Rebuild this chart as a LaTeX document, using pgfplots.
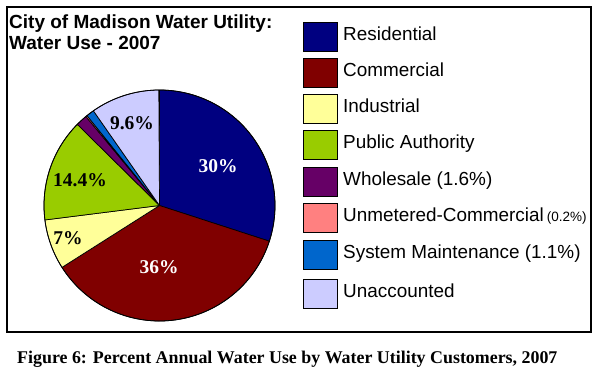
\documentclass[border=0pt]{standalone}
\usepackage{pgfplots}
\pgfplotsset{compat=1.18}
\usepackage{pgfplotstable}
\usepackage{fontspec}
\setmainfont{Liberation Serif}
\newfontfamily\arial{Liberation Sans}

\definecolor{c0}{HTML}{000080}
\definecolor{c1}{HTML}{800000}
\definecolor{c2}{HTML}{FFFF99}
\definecolor{c3}{HTML}{99CC00}
\definecolor{c4}{HTML}{660066}
\definecolor{c5}{HTML}{FF8080}
\definecolor{c6}{HTML}{0066CC}
\definecolor{c7}{HTML}{CCCCFF}

% share of annual water use, percent (clockwise from 12 o'clock)
\pgfplotstableread{
idx value ly
0 30   37
1 36   73
2 7    109
3 14.4 145
4 1.6  182
5 0.2  218
6 1.1  255
7 9.6  294
}\piedata

\begin{document}
\begin{tikzpicture}
\def\cum{0}
\pgfplotsforeachungrouped \i in {0,...,7}{%
  \pgfplotstablegetelem{\i}{value}\of\piedata
  \pgfmathsetmacro{\sa}{90-3.6*\cum}%
  \pgfmathsetmacro{\cum}{\cum+\pgfplotsretval}%
  \pgfmathsetmacro{\ea}{90-3.6*\cum}%
  \expandafter\xdef\csname sa\i\endcsname{\sa}%
  \expandafter\xdef\csname ea\i\endcsname{\ea}%
  \pgfplotstablegetelem{\i}{ly}\of\piedata
  \expandafter\xdef\csname ly\i\endcsname{\pgfplotsretval}%
}
\begin{axis}[scale only axis, width=600pt, height=377pt,
  xmin=0, xmax=600, ymin=0, ymax=377, hide axis, clip=false]
\path (axis cs:0,0) rectangle (axis cs:600,377);
\draw[line width=2pt] (axis cs:7,45) rectangle (axis cs:591,370);
\pgfplotsinvokeforeach{0,...,7}{
  \fill[c#1, draw=black, line width=0.7pt, line join=round]
    (axis cs:159.5,171.5) -- ++(\csname sa#1\endcsname:115.5pt)
    arc[start angle=\csname sa#1\endcsname, end angle=\csname ea#1\endcsname, radius=115.5pt] -- cycle;
  \draw[fill=c#1, draw=black, line width=0.7pt]
    (axis cs:303,{377-\csname ly#1\endcsname-14.5}) rectangle (axis cs:337,{377-\csname ly#1\endcsname+14.5});
}
\draw[line width=0.8pt] (axis cs:159.5,171.5) circle[radius=115.5pt];
% pie labels
\begin{scope}[every node/.style={font=\bfseries\fontsize{19.5}{22}\selectfont, inner sep=0}]
\node[white] at (axis cs:218,211) {30\%};
\node[white] at (axis cs:159,110) {36\%};
\node at (axis cs:68,139) {7\%};
\node at (axis cs:80,197) {14.4\%};
\node at (axis cs:132,254) {9.6\%};
\end{scope}
% title
\begin{scope}[every node/.style={font=\arial\bfseries\fontsize{19}{22}\selectfont, inner sep=0, anchor=base west}]
\node at (axis cs:9,348) {City of Madison Water Utility:};
\node at (axis cs:9,327) {Water Use - 2007};
\end{scope}
% legend
\begin{scope}[every node/.style={font=\arial\fontsize{18.9}{22}\selectfont, inner sep=0, anchor=base west}]
\node at (axis cs:343,{377-40.5}) {Residential};
\node at (axis cs:343,{377-76.5}) {Commercial};
\node at (axis cs:343,{377-112.5}) {Industrial};
\node at (axis cs:343,{377-148.5}) {Public Authority};
\node at (axis cs:343,{377-185.5}) {Wholesale (1.6\%)};
\node at (axis cs:343,{377-221.5}) {Unmetered-Commercial\,{\fontsize{13.5}{16}\selectfont(0.2\%)}};
\node at (axis cs:343,{377-258.5}) {System Maintenance (1.1\%)};
\node at (axis cs:343,{377-297.5}) {Unaccounted};
\end{scope}
% caption
\node[font=\bfseries\fontsize{17.9}{21}\selectfont, inner sep=0, anchor=base west] at (axis cs:17,13.3)
  {Figure 6: Percent Annual Water Use by Water Utility Customers, 2007};
\end{axis}
\end{tikzpicture}
\end{document}
